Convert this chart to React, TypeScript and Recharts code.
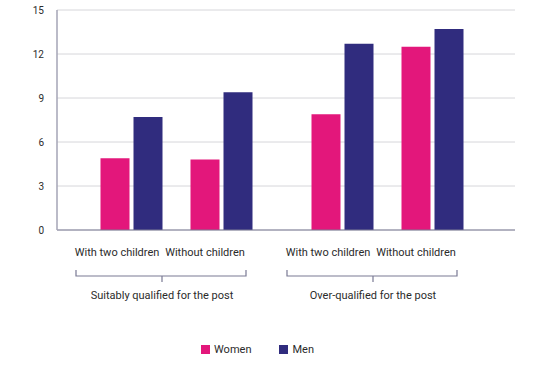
import React from "react";
import { BarChart, Bar, XAxis, YAxis, CartesianGrid, Legend } from "recharts";

const groups = ["Suitably qualified for the post", "Over-qualified for the post"];
const subLabels = ["With two children", "Without children"];
const womenWithChildren = [4.9, 7.9];
const menWithChildren = [7.7, 12.7];
const womenWithoutChildren = [4.8, 12.5];
const menWithoutChildren = [9.4, 13.7];
const yTicks = [0, 3, 6, 9, 12, 15];

const WOMEN = "#e3177b";
const MEN = "#302c7e";
const FONT = "Roboto, 'Noto Sans', sans-serif";

const data = groups.map((g, i) => ({
  group: g,
  womenWith: womenWithChildren[i],
  menWith: menWithChildren[i],
  womenWithout: womenWithoutChildren[i],
  menWithout: menWithoutChildren[i],
}));

const GroupTick = (props: any) => {
  const { x, y, payload } = props;
  const c = x - 14;
  return (
    <g>
      <text x={x - 59} y={y + 23} textAnchor="middle" dominantBaseline="middle" fontSize={11} fill="#2b2b2b" fontFamily={FONT}>
        {subLabels[0]}
      </text>
      <text x={x + 29} y={y + 23} textAnchor="middle" dominantBaseline="middle" fontSize={11} fill="#2b2b2b" fontFamily={FONT}>
        {subLabels[1]}
      </text>
      <path
        d={`M${x - 100},${y + 40} V${y + 46} H${x + 70} V${y + 40} M${c},${y + 46} V${y + 52}`}
        stroke="#7a7a94"
        strokeWidth={1.2}
        fill="none"
      />
      <text x={c} y={y + 66} textAnchor="middle" dominantBaseline="middle" fontSize={11} fill="#2b2b2b" fontFamily={FONT}>
        {payload.value}
      </text>
    </g>
  );
};

const LegendContent = () => (
  <div style={{ display: "flex", justifyContent: "center", alignItems: "center", height: 20, fontFamily: FONT, fontSize: 11, color: "#2b2b2b" }}>
    <span style={{ display: "inline-block", width: 9, height: 9, background: WOMEN, marginRight: 4 }} />
    <span style={{ marginRight: 28 }}>Women</span>
    <span style={{ display: "inline-block", width: 9, height: 9, background: MEN, marginRight: 4 }} />
    <span>Men</span>
  </div>
);

export default function App() {
  return (
    <div style={{ position: "absolute", left: 0, top: 0, background: "#fff" }}>
      <BarChart
        width={547}
        height={369}
        data={data}
        margin={{ top: 10, right: 32, left: 0, bottom: 10 }}
        barGap={4}
      >
        <CartesianGrid vertical={false} stroke="#d6d6da" />
        <XAxis
          dataKey="group"
          tick={<GroupTick />}
          tickLine={false}
          tickSize={0}
          tickMargin={0}
          axisLine={{ stroke: "#7a7a94" }}
          padding={{ left: 13.5, right: 22.5 }}
          height={109}
          interval={0}
        />
        <YAxis
          width={57}
          domain={[0, 15]}
          ticks={yTicks}
          tickLine={false}
          tickMargin={7}
          axisLine={{ stroke: "#a4a4b6", strokeWidth: 1.5 }}
          tick={{ fontSize: 10, fill: "#2b2b2b", fontFamily: FONT }}
        />
        <Legend verticalAlign="bottom" height={20} content={<LegendContent />} />
        <Bar dataKey="womenWith" name="Women" fill={WOMEN} barSize={29} isAnimationActive={false} />
        <Bar dataKey="menWith" name="Men" fill={MEN} barSize={29} isAnimationActive={false} />
        <Bar dataKey="spacer" legendType="none" fill="none" barSize={20} isAnimationActive={false} />
        <Bar dataKey="womenWithout" name="Women" fill={WOMEN} barSize={29} isAnimationActive={false} />
        <Bar dataKey="menWithout" name="Men" fill={MEN} barSize={29} isAnimationActive={false} />
      </BarChart>
    </div>
  );
}
